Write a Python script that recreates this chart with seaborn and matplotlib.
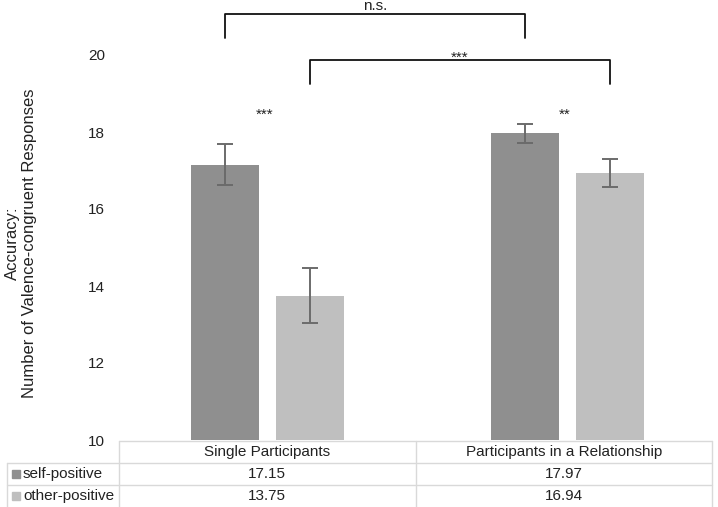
import matplotlib
matplotlib.use("Agg")
import matplotlib.pyplot as plt
import seaborn as sns
import pandas as pd
from matplotlib.patches import Rectangle
from matplotlib.lines import Line2D

groups = ["Single Participants", "Participants in a Relationship"]
conditions = ["self-positive", "other-positive"]
self_positive = [17.15, 17.97]
other_positive = [13.75, 16.94]
self_err = [0.53, 0.25]
other_err = [0.72, 0.37]
ytick_vals = [10, 12, 14, 16, 18, 20]
colors = ["#8f8f8f", "#bfbfbf"]

df = pd.DataFrame({
    "group": groups * 2,
    "condition": [conditions[0]] * 2 + [conditions[1]] * 2,
    "value": self_positive + other_positive,
})

sns.set_theme(style="white")
plt.rcParams["font.family"] = ["Liberation Sans", "DejaVu Sans"]

W, H = 718, 507
fig = plt.figure(figsize=(W / 100, H / 100), dpi=100)
ax_l, ax_r, ax_t, ax_b = 118, 717, 55, 440
ax = fig.add_axes([ax_l / W, (H - ax_b) / H, (ax_r - ax_l) / W, (ax_b - ax_t) / H])

sns.barplot(data=df, x="group", y="value", hue="condition", hue_order=conditions,
            order=groups, palette=colors, width=0.567, gap=0.2, errorbar=None,
            legend=False, ax=ax, linewidth=0, saturation=1)

errs = [self_err, other_err]
vals = [self_positive, other_positive]
centers = {}
bar_conts = list(ax.containers)
for ci, cont in enumerate(bar_conts):
    xs = [p.get_x() + p.get_width() / 2 for p in cont.patches]
    centers[ci] = xs
    ax.errorbar(xs, vals[ci], yerr=errs[ci], fmt="none", ecolor="#6b6b6b",
                elinewidth=1.4, capsize=6, capthick=1.4, zorder=5)

ax.set_ylim(10, 20)
ax.set_xlim(-0.5, 1.5)
ax.set_yticks(ytick_vals)
ax.set_yticklabels([str(v) for v in ytick_vals], fontsize=11, color="#222222")
ax.tick_params(axis="y", length=0, pad=9.5)
ax.set_xticks([])
ax.set_xlabel("")
ax.set_ylabel("Accuracy:\nNumber of Valence-congruent Responses", fontsize=12,
              color="#222222", multialignment="center")
ax.yaxis.set_label_coords(-0.135, 0.51)
for s in ax.spines.values():
    s.set_visible(False)

# significance brackets
def bracket(x1, x2, y_top, y_bot, text, fs, ty):
    ax.plot([x1, x1, x2, x2], [y_bot, y_top, y_top, y_bot], color="#111111",
            lw=1.3, clip_on=False, zorder=6)
    ax.text((x1 + x2) / 2, ty, text, ha="center", va="baseline", fontsize=fs,
            color="#222222", clip_on=False)

bracket(centers[0][0], centers[0][1], 21.06, 20.44, "n.s.", 11, 21.17)
bracket(centers[1][0], centers[1][1], 19.87, 19.25, "***", 11, 19.83)
for gi, st in enumerate(["***", "**"]):
    ax.text((centers[0][gi] + centers[1][gi]) / 2 - 0.01, 18.34, st, ha="center",
            va="baseline", fontsize=11, color="#222222")

# data table below
def fx(px):
    return px / W
def fy(py):
    return 1 - py / H

grid = "#d9d9d9"
tbl_l, tbl_m, tbl_r = 119, 415.5, 712
row_y = [441, 463, 485, 507]
fig.add_artist(Line2D([fx(tbl_l), fx(tbl_r)], [fy(row_y[0])] * 2, color=grid, lw=1))
for yy in row_y[1:3]:
    fig.add_artist(Line2D([fx(7), fx(tbl_r)], [fy(yy)] * 2, color=grid, lw=1))
for xx in [tbl_l, tbl_m, tbl_r]:
    fig.add_artist(Line2D([fx(xx)] * 2, [fy(row_y[0]), fy(row_y[3])], color=grid, lw=1))
fig.add_artist(Line2D([fx(7)] * 2, [fy(row_y[1]), fy(row_y[3])], color=grid, lw=1))

col_c = [(tbl_l + tbl_m) / 2, (tbl_m + tbl_r) / 2]
for gi, g in enumerate(groups):
    fig.text(fx(col_c[gi]), fy((row_y[0] + row_y[1]) / 2), g, ha="center",
             va="center", fontsize=11, color="#222222")
for ri, (cond, v) in enumerate(zip(conditions, vals)):
    yc = fy((row_y[ri + 1] + row_y[ri + 2]) / 2)
    fig.add_artist(Rectangle((fx(12), yc - 4 / H), 8 / W, 8 / H, color=colors[ri],
                             transform=fig.transFigure))
    fig.text(fx(23), yc, cond, ha="left", va="center", fontsize=11, color="#222222")
    for gi in range(2):
        fig.text(fx(col_c[gi]), yc, f"{v[gi]:.2f}", ha="center", va="center",
                 fontsize=11, color="#222222")

fig.savefig("out.png", dpi=100)
